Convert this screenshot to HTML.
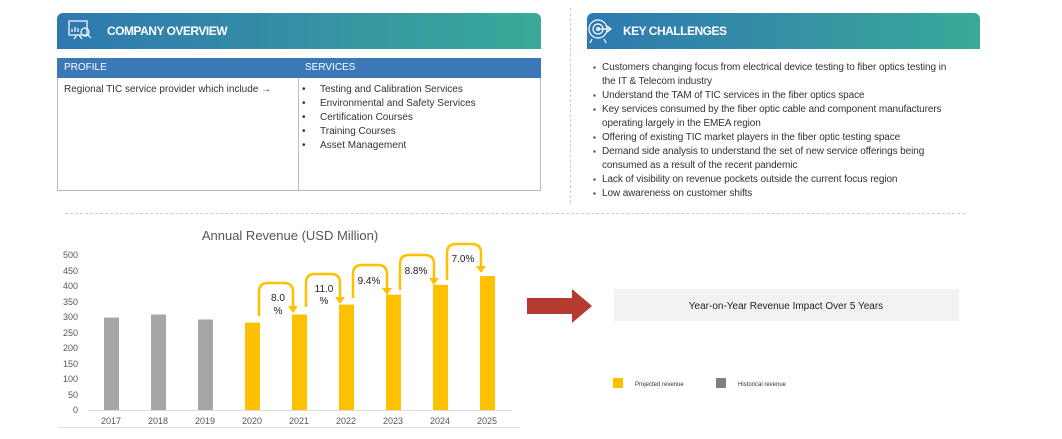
<!DOCTYPE html>
<html><head><meta charset="utf-8"><style>
*{margin:0;padding:0;box-sizing:border-box}
body{width:1062px;height:439px;background:#fff;position:relative;overflow:hidden;font-family:"Liberation Sans",sans-serif;color:#333}
.abs{position:absolute}
.hdr{background:linear-gradient(90deg,#2e78b0,#3aa999);border-radius:6px 6px 0 0;color:#fff;font-weight:bold;font-size:12px;letter-spacing:-0.5px}
.t{font-size:10px;line-height:14px;color:#333}
ul{list-style:none}
li{position:relative;padding-left:9px}
li:before{content:"▪";position:absolute;left:0;font-size:8px}
.s li:before{content:"•";font-size:10px;left:2px}
.s li{padding-left:20px}
</style></head><body>
<div class="abs hdr" style="left:57px;top:13px;width:484px;height:36px;padding:9px 0 0 50px;line-height:18px">COMPANY OVERVIEW</div>
<svg class="abs" style="left:66px;top:17px" width="28" height="28" viewBox="0 0 28 28" fill="none" stroke="#fff" stroke-width="1.2"><rect x="3" y="4" width="18" height="14"/><path d="M6 15v-3M9 15v-5M12 15v-4M8 22l3-4M16 22l-3-4"/><circle cx="19" cy="15" r="4"/><path d="M22 18l3 3"/></svg>
<div class="abs" style="left:57px;top:58px;width:484px;height:133px;border:1px solid #bbb"></div>
<div class="abs" style="left:57px;top:58px;width:484px;height:20px;background:#3a78b8;color:#fff;font-size:10px;line-height:20px"><span style="position:absolute;left:7px">PROFILE</span><span style="position:absolute;left:248px">SERVICES</span></div>
<div class="abs" style="left:298px;top:78px;width:1px;height:113px;background:#bbb"></div>
<div class="abs t" style="left:64px;top:83px">Regional TIC service provider which include →</div>
<ul class="abs t s" style="left:300px;top:83px"><li>Testing and Calibration Services</li><li>Environmental and Safety Services</li><li>Certification Courses</li><li>Training Courses</li><li>Asset Management</li></ul>
<div class="abs" style="left:570px;top:8px;height:195px;border-left:1px dashed #ccc"></div>
<div class="abs hdr" style="left:587px;top:13px;width:393px;height:36px;padding:9px 0 0 36px;line-height:18px">KEY CHALLENGES</div>
<svg class="abs" style="left:587px;top:17px" width="26" height="28" viewBox="0 0 26 28" fill="none" stroke="#fff" stroke-width="1.2"><circle cx="11" cy="12" r="9"/><circle cx="11" cy="12" r="5"/><circle cx="11" cy="12" r="1.5"/><path d="M11 12h13M20 9l4 3-4 3M5 22l-2 4M17 22l2 4"/></svg>
<ul class="abs t" style="left:593px;top:61px;white-space:nowrap;letter-spacing:-0.1px"><li>Customers changing focus from electrical device testing to fiber optics testing in<br>the IT &amp; Telecom industry</li><li>Understand the TAM of TIC services in the fiber optics space</li><li>Key services consumed by the fiber optic cable and component manufacturers<br>operating largely in the EMEA region</li><li>Offering of existing TIC market players in the fiber optic testing space</li><li>Demand side analysis to understand the set of new service offerings being<br>consumed as a result of the recent pandemic</li><li>Lack of visibility on revenue pockets outside the current focus region</li><li>Low awareness on customer shifts</li></ul>
<div class="abs" style="left:65px;top:213px;width:900px;border-top:1px dashed #ccc"></div>
<svg class="abs" style="left:0;top:0" width="1062" height="439" font-family="Liberation Sans, sans-serif">
<text x="290" y="240" font-size="13" fill="#555" text-anchor="middle">Annual Revenue (USD Million)</text>
<g font-size="9" fill="#555" text-anchor="end">
<text x="78" y="413">0</text><text x="78" y="398">50</text><text x="78" y="382">100</text><text x="78" y="367">150</text><text x="78" y="351">200</text><text x="78" y="336">250</text><text x="78" y="320">300</text><text x="78" y="305">350</text><text x="78" y="289">400</text><text x="78" y="274">450</text><text x="78" y="258">500</text></g>
<line x1="88" y1="410.5" x2="512" y2="410.5" stroke="#ddd"/>
<line x1="58" y1="427.5" x2="520" y2="427.5" stroke="#ddd"/>
<g fill="#a6a6a6"><rect x="104" y="317.6" width="15" height="92.4"/><rect x="151" y="314.5" width="15" height="95.5"/><rect x="198" y="319.5" width="15" height="90.5"/></g>
<g fill="#ffc000"><rect x="245" y="322.6" width="15" height="87.4"/><rect x="292" y="314.5" width="15" height="95.5"/><rect x="339" y="304.6" width="15" height="105.4"/><rect x="386" y="294.7" width="15" height="115.3"/><rect x="433" y="284.8" width="15" height="125.2"/><rect x="480" y="276.1" width="15" height="133.9"/></g>
<g font-size="9" fill="#555" text-anchor="middle"><text x="111" y="424">2017</text><text x="158" y="424">2018</text><text x="205" y="424">2019</text><text x="252" y="424">2020</text><text x="299" y="424">2021</text><text x="346" y="424">2022</text><text x="393" y="424">2023</text><text x="440" y="424">2024</text><text x="487" y="424">2025</text></g>
<g fill="none" stroke="#ffc000" stroke-width="2.5">
<path d="M259 316V292q0-9 9-9h16q9 0 9 9v16"/><path d="M306 307V283q0-9 9-9h16q9 0 9 9v15"/><path d="M353 298V274q0-9 9-9h16q9 0 9 9v15"/><path d="M400 290V264q0-9 9-9h16q9 0 9 9v15"/><path d="M447 280V253q0-9 9-9h16q9 0 9 9v14"/></g>
<g fill="#ffc000"><path d="M288 306h10l-5 7z"/><path d="M335 297h10l-5 7z"/><path d="M382 288h10l-5 7z"/><path d="M429 278h10l-5 7z"/><path d="M476 266h10l-5 7z"/></g>
<g font-size="10" fill="#222" text-anchor="middle"><text x="278" y="301">8.0</text><text x="278" y="314">%</text><text x="324" y="292">11.0</text><text x="324" y="304">%</text><text x="369" y="284">9.4%</text><text x="416" y="274">8.8%</text><text x="463" y="262">7.0%</text></g>
<path d="M527 298h45v-9l20 17-20 17v-9h-45z" fill="#b53a2f"/>
<rect x="614" y="289" width="345" height="32" fill="#f2f2f2"/>
<text x="786" y="309" font-size="10" fill="#222" text-anchor="middle">Year-on-Year Revenue Impact Over 5 Years</text>
<rect x="613" y="378" width="10" height="10" fill="#ffc000"/><text x="635" y="386" font-size="6" fill="#333">Projected revenue</text>
<rect x="716" y="378" width="10" height="10" fill="#808080"/><text x="738" y="386" font-size="6" fill="#333">Historical revenue</text>
</svg>
</body></html>
